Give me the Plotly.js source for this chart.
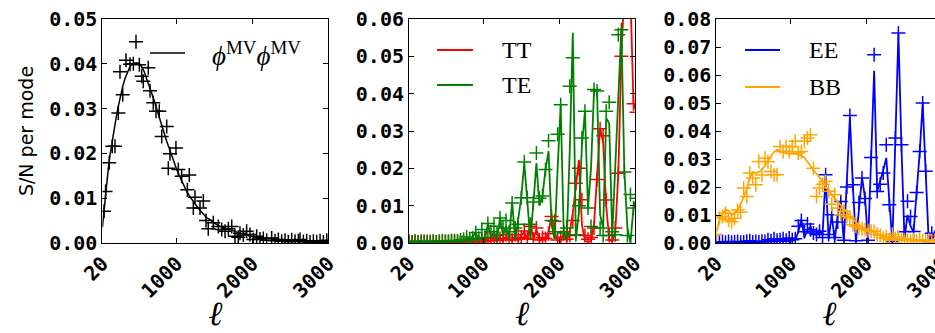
<!DOCTYPE html>
<html>
<head>
<meta charset="utf-8">
<script src="https://cdn.plot.ly/plotly-3.0.1.min.js"></script>
<style>
html, body { margin: 0; padding: 0; overflow: hidden; background: #ffffff; }
#chart { width: 945px; height: 333px; }
</style>
</head>
<body>
<div id="chart"></div>
<script>
// ---------------- DATA ----------------
const xTickVals = [20, 1000, 2000, 3000];
const xTickText = ["20", "1000", "2000", "3000"];
const yTicks1 = [0, 0.01, 0.02, 0.03, 0.04, 0.05];
const yTicks2 = [0, 0.01, 0.02, 0.03, 0.04, 0.05, 0.06];
const yTicks3 = [0, 0.01, 0.02, 0.03, 0.04, 0.05, 0.06, 0.07, 0.08];

// Panel 1: phi^MV phi^MV (theory curve + simulated points)
const phiTheoryEll = [20,40,60,80,100,120,150,186,220,252,285,318,350,384,420,450,490,537,570,603,636,669,702,735,768,802,835,868,901,934,967,1000,1033,1066,1099,1132,1165,1198,1231,1264,1297,1331,1364,1397,1440,1500,1572,1650,1749,1850,1970,2080,2190,2300,2450,2600,2800,3000];
const phiTheory = [0.0035,0.0072,0.0108,0.0140,0.0170,0.0195,0.0230,0.0264,0.0297,0.0325,0.0348,0.0367,0.0382,0.0394,0.0400,0.0402,0.0402,0.0394,0.0383,0.0368,0.0352,0.0335,0.0318,0.0301,0.0283,0.0264,0.0245,0.0227,0.0210,0.0193,0.0178,0.0164,0.0151,0.0138,0.0126,0.0115,0.0106,0.0097,0.0089,0.0082,0.0075,0.0068,0.0062,0.0056,0.0052,0.0044,0.0037,0.0032,0.0027,0.0021,0.0015,0.0012,0.0010,0.0008,0.0006,0.0004,0.0003,0.0002];
const phiDataEll = [42,62,110,150,186,230,252,288,331,384,428,463,507,538,559,625,648,691,727,770,802,868,889,911,990,1021,1065,1140,1166,1219,1241,1307,1351,1386,1416,1483,1549,1593,1637,1681,1725,1768,1812,1834,1878,1922,1966,2010,2054,2098,2142,2186,2252,2296,2340,2384,2428,2472,2516,2560,2604,2626,2670,2714,2758,2802,2846,2890,2934,2978];
const phiData = [0.0071,0.0115,0.0179,0.0216,0.0216,0.0290,0.0382,0.0331,0.0408,0.0399,0.0400,0.0449,0.0398,0.0372,0.0361,0.0391,0.0340,0.0313,0.0294,0.0294,0.0238,0.0260,0.0167,0.0199,0.0212,0.0164,0.0149,0.0119,0.0152,0.0078,0.0102,0.0078,0.0094,0.0050,0.0032,0.0045,0.0037,0.0030,0.0026,0.0032,0.0037,0.0015,0.0013,0.0022,0.0018,0.0026,0.0019,0.0008,0.0015,0.0009,0.0010,0.0006,0.0011,0.0005,0.0008,0.0004,0.0006,0.0003,0.0007,0.0004,0.0005,0.0008,0.0003,0.0005,0.0002,0.0004,0.0003,0.0005,0.0002,0.0006];

// Panels 2 and 3: common multipole bins (delta ell = 40)
const ellBins = [20,60,100,140,180,220,260,300,340,380,420,460,500,540,580,620,660,700,740,780,820,860,900,940,980,1020,1060,1100,1140,1180,1220,1260,1300,1340,1380,1420,1460,1500,1540,1580,1620,1660,1700,1740,1780,1820,1860,1900,1940,1980,2020,2060,2100,2140,2180,2220,2260,2300,2340,2380,2420,2460,2500,2540,2580,2620,2660,2700,2740,2780,2820,2860,2900,2940,2980,3020];

const ttLine = [0.0002,0.0002,0.0002,0.0002,0.0002,0.0002,0.0002,0.0002,0.0002,0.0002,
  0.0002,0.0002,0.0002,0.0002,0.0003,0.0002,0.0003,0.0002,0.0003,0.0003,
  0.0004,0.0003,0.0005,0.0003,0.0006,0.0003,0.0008,0.0004,0.0010,0.0004,0.0012,0.0005,0.0015,
  0.0012,0.0005,0.0018,0.0006,0.0020,0.0030,0.0008,0.0054,0.0010,0.0037,0.0006,0.0012,0.0008,0.0030,0.0071,0.0030,0.0005,0.0010,0.0025,0.0005,0.0030,0.0080,0.0160,0.0223,0.0050,0.0005,0.0003,0.0005,0.0050,0.0170,0.0308,0.0270,0.0100,0.0010,0.0003,0.0030,0.0187,0.0500,0.0800,0.0850,0.0660,0.0375,0.0350];
const ttData = [0.0004,0.0003,0.0004,0.0003,0.0004,0.0003,0.0004,0.0003,0.0004,0.0003,
  0.0004,0.0003,0.0004,0.0003,0.0004,0.0003,0.0005,0.0003,0.0004,0.0005,
  0.0005,0.0004,0.0008,0.0003,0.0010,0.0004,0.0012,0.0006,0.0015,0.0008,0.0012,0.0010,0.0022,
  0.0015,0.0008,0.0022,0.0010,0.0015,0.0032,0.0012,0.0045,0.0010,0.0040,0.0008,0.0015,0.0012,0.0025,0.0071,0.0058,0.0008,0.0015,0.0030,0.0010,0.0020,0.0060,0.0160,0.0200,0.0116,0.0020,0.0010,0.0015,0.0040,0.0170,0.0306,0.0287,0.0115,0.0020,0.0008,0.0040,0.0187,0.0500,0.0800,0.0850,0.0650,0.0373,0.0350];

const teLine = [0.0003,0.0003,0.0003,0.0003,0.0003,0.0003,0.0003,0.0003,0.0003,0.0003,0.0003,0.0004,0.0004,0.0004,0.0004,0.0005,0.0005,0.0005,
  0.0006,0.0012,0.0005,0.0015,0.0028,0.0008,0.0015,0.0008,0.0052,0.0015,0.0030,0.0008,0.0067,0.0020,0.0045,0.0010,
  0.0110,0.0008,0.0060,0.0121,0.0214,0.0120,0.0010,0.0106,0.0214,0.0100,0.0126,0.0197,0.0246,0.0050,0.0010,0.0200,0.0370,0.0030,0.0010,0.0250,0.0563,0.0010,0.0080,0.0260,0.0353,0.0094,0.0200,0.0410,0.0405,0.0076,0.0040,0.0335,0.0320,0.0020,0.0200,0.0400,0.0576,0.0190,0.0040,0.0000,0.0095,0.0120];
const teData = [0.0004,0.0003,0.0005,0.0003,0.0004,0.0005,0.0003,0.0004,0.0005,0.0003,0.0004,0.0006,0.0004,0.0005,0.0007,0.0006,0.0005,0.0008,
  0.0010,0.0016,0.0008,0.0013,0.0028,0.0012,0.0036,0.0015,0.0052,0.0030,0.0045,0.0020,0.0067,0.0040,0.0060,0.0030,
  0.0107,0.0040,0.0050,0.0121,0.0217,0.0121,0.0050,0.0110,0.0241,0.0120,0.0126,0.0197,0.0274,0.0060,0.0030,0.0291,0.0370,0.0027,0.0040,0.0420,0.0496,0.0022,0.0100,0.0281,0.0353,0.0094,0.0044,0.0411,0.0407,0.0040,0.0020,0.0353,0.0377,0.0030,0.0022,0.0558,0.0571,0.0190,0.0020,0.0130,0.0094,0.0120];

const eeLine = [0.0002,0.0002,0.0002,0.0002,0.0002,0.0002,0.0002,0.0003,0.0003,0.0003,0.0003,0.0003,0.0003,0.0004,0.0004,0.0004,0.0004,0.0005,0.0005,0.0005,0.0006,0.0006,0.0006,0.0007,0.0008,0.0008,0.0010,
  0.0040,0.0085,0.0020,0.0045,0.0060,0.0030,0.0030,0.0045,0.0030,0.0240,0.0015,0.0100,0.0010,0.0100,0.0148,0.0005,0.0220,0.0450,0.0200,0.0005,0.0120,0.0234,0.0160,0.0003,0.0300,0.0615,0.0184,0.0220,0.0260,0.0304,0.0137,0.0003,0.0370,0.0750,0.0345,0.0015,0.0100,0.0060,0.0040,0.0180,0.0320,0.0500,0.0250,0.0003,0.0030,0.0015,0.0040,0.0020,0.0020];
const eeData = [0.0004,0.0003,0.0004,0.0003,0.0005,0.0003,0.0004,0.0005,0.0003,0.0004,0.0006,0.0008,0.0004,0.0005,0.0004,0.0006,0.0005,0.0012,0.0008,0.0015,0.0010,0.0012,0.0015,0.0010,0.0018,0.0012,0.0015,
  0.0060,0.0080,0.0040,0.0068,0.0047,0.0036,0.0030,0.0042,0.0020,0.0244,0.0030,0.0101,0.0020,0.0075,0.0148,0.0010,0.0200,0.0455,0.0208,0.0008,0.0145,0.0232,0.0159,0.0010,0.0305,0.0672,0.0184,0.0210,0.0250,0.0351,0.0137,0.0005,0.0375,0.0750,0.0351,0.0040,0.0149,0.0095,0.0041,0.0180,0.0327,0.0500,0.0256,0.0005,0.0035,0.0020,0.0030,0.0020,0.0020];

const bbLine = [0.0040,0.0080,0.0105,0.0120,0.0115,0.0100,0.0105,0.0118,0.0140,0.0165,
  0.0190,0.0235,0.0252,0.0250,0.0254,0.0262,0.0275,0.0295,0.0312,0.0325,
  0.0333,0.0328,0.0322,0.0320,0.0318,0.0318,0.0318,0.0316,0.0313,0.0305,
  0.0292,0.0276,0.0260,0.0248,0.0234,0.0218,0.0200,0.0187,0.0172,0.0160,
  0.0147,0.0133,0.0120,0.0110,0.0098,0.0085,0.0074,0.0064,0.0057,0.0051,
  0.0046,0.0042,0.0037,0.0032,0.0028,0.0024,0.0021,0.0018,0.0016,0.0015,
  0.0014,0.0013,0.0012,0.0012,0.0011,0.0011,0.0010,0.0010,0.0009,0.0009,
  0.0008,0.0008,0.0007,0.0007,0.0006,0.0006];
const bbData = [0.0030,0.0088,0.0095,0.0106,0.0082,0.0076,0.0088,0.0118,0.0110,0.0196,
  0.0166,0.0250,0.0232,0.0208,0.0291,0.0243,0.0303,0.0290,0.0255,0.0244,
  0.0244,0.0345,0.0327,0.0345,0.0327,0.0345,0.0363,0.0321,0.0327,0.0363,
  0.0375,0.0387,0.0267,0.0166,0.0196,0.0210,0.0220,0.0185,0.0138,0.0172,
  0.0125,0.0101,0.0113,0.0095,0.0089,0.0065,0.0060,0.0054,0.0050,0.0048,
  0.0045,0.0042,0.0042,0.0030,0.0028,0.0018,0.0022,0.0012,0.0030,0.0015,
  0.0021,0.0012,0.0010,0.0014,0.0008,0.0011,0.0007,0.0012,0.0009,0.0006,
  0.0010,0.0008,0.0009,0.0006,0.0008,0.0007];

const legendLabels = {
  phi: "<i>\u03D5</i><sup>MV</sup><i>\u03D5</i><sup>MV</sup>",
  tt: "TT", te: "TE", ee: "EE", bb: "BB"
};

// ---------------- STYLE / LAYOUT ----------------
const W = 945, H = 333;
const TOP = 19, BOTTOM = 90;
const plotH = H - TOP - BOTTOM;
const px = v => v / W;                       // horizontal pixel -> paper
const py = v => (H - BOTTOM - v) / plotH;    // vertical pixel -> paper

const colors = { phi: "#000000", tt: "#ff0000", te: "#008000", ee: "#0000ff", bb: "#ffa500" };

function lineTrace(x, y, color, xa, ya, w) {
  return { x: x, y: y, type: "scatter", mode: "lines", xaxis: xa, yaxis: ya,
    line: { color: color, width: w }, hoverinfo: "skip", showlegend: false };
}
function markTrace(x, y, color, xa, ya) {
  return { x: x, y: y, type: "scatter", mode: "markers", xaxis: xa, yaxis: ya,
    marker: { symbol: "cross-thin", size: 10, color: color, line: { color: color, width: 1.5 } },
    hoverinfo: "skip", showlegend: false };
}

const data = [
  lineTrace(phiTheoryEll, phiTheory, colors.phi, "x", "y", 1.5),
  markTrace(phiDataEll, phiData, colors.phi, "x", "y"),
  lineTrace(ellBins, ttLine, colors.tt, "x2", "y2", 1.8),
  markTrace(ellBins, ttData, colors.tt, "x2", "y2"),
  lineTrace(ellBins, teLine, colors.te, "x2", "y2", 1.8),
  markTrace(ellBins, teData, colors.te, "x2", "y2"),
  lineTrace(ellBins, eeLine, colors.ee, "x3", "y3", 1.8),
  markTrace(ellBins, eeData, colors.ee, "x3", "y3"),
  lineTrace(ellBins, bbLine, colors.bb, "x3", "y3", 1.8),
  markTrace(ellBins, bbData, colors.bb, "x3", "y3")
];

const tickFont = { family: "DejaVu Sans Mono", size: 20, weight: "bold", color: "#000" };

function xAxis(domain, anchor) {
  return {
    domain: domain, anchor: anchor, range: [20, 3000],
    tickmode: "array", tickvals: xTickVals, ticktext: xTickText, tickangle: -45,
    ticklabeloverflow: "allow",
    ticks: "inside", ticklen: 5, tickwidth: 1, tickcolor: "#000",
    showline: true, linecolor: "#000", linewidth: 1, mirror: "ticks",
    showgrid: false, zeroline: false, tickfont: tickFont,
    title: { text: "\u2113", font: { family: "DejaVu Serif", size: 34, style: "italic", color: "#000" }, standoff: 2 }
  };
}
function yAxis(anchor, ticks, maxv, title) {
  const ax = {
    domain: [0, 1], anchor: anchor, range: [0, maxv],
    tickmode: "array", tickvals: ticks, ticktext: ticks.map(t => t.toFixed(2)),
    ticks: "inside", ticklen: 5, tickwidth: 1, tickcolor: "#000",
    showline: true, linecolor: "#000", linewidth: 1, mirror: "ticks",
    showgrid: false, zeroline: false, tickfont: tickFont
  };
  if (title) ax.title = { text: title, font: { family: "DejaVu Sans", size: 19, color: "#000" }, standoff: 10 };
  return ax;
}

const legFont = { family: "Liberation Serif", size: 24, color: "#000" };
function legLine(x0, x1, y, color, w) {
  return { type: "line", xref: "paper", yref: "paper", x0: px(x0), x1: px(x1), y0: py(y), y1: py(y),
    line: { color: color, width: w } };
}
function legText(x, y, text, size) {
  return { xref: "paper", yref: "paper", x: px(x), y: py(y), text: text, showarrow: false,
    xanchor: "left", yanchor: "middle", font: Object.assign({}, legFont, size ? { size: size } : {}) };
}

const layout = {
  width: W, height: H,
  margin: { l: 0, r: 0, t: TOP, b: BOTTOM, pad: 0 },
  paper_bgcolor: "#ffffff", plot_bgcolor: "#ffffff",
  showlegend: false,
  xaxis: xAxis([px(102.4), px(328.4)], "y"),
  xaxis2: xAxis([px(409), px(635)], "y2"),
  xaxis3: xAxis([px(716.4), px(942.4)], "y3"),
  yaxis: yAxis("x", yTicks1, 0.05, "S/N per mode"),
  yaxis2: yAxis("x2", yTicks2, 0.06, null),
  yaxis3: yAxis("x3", yTicks3, 0.08, null),
  shapes: [
    legLine(150, 185, 53, colors.phi, 1.5),
    legLine(437, 473, 50, colors.tt, 1.8),
    legLine(437, 473, 85, colors.te, 1.8),
    legLine(745, 780, 50, colors.ee, 1.8),
    legLine(745, 780, 87, colors.bb, 1.8)
  ],
  annotations: [
    legText(210, 54, legendLabels.phi, 27),
    legText(500, 50, legendLabels.tt),
    legText(500, 85, legendLabels.te),
    legText(807, 50, legendLabels.ee),
    legText(807, 87, legendLabels.bb)
  ]
};

Plotly.newPlot("chart", data, layout, { staticPlot: true, displayModeBar: false });
</script>
</body>
</html>
